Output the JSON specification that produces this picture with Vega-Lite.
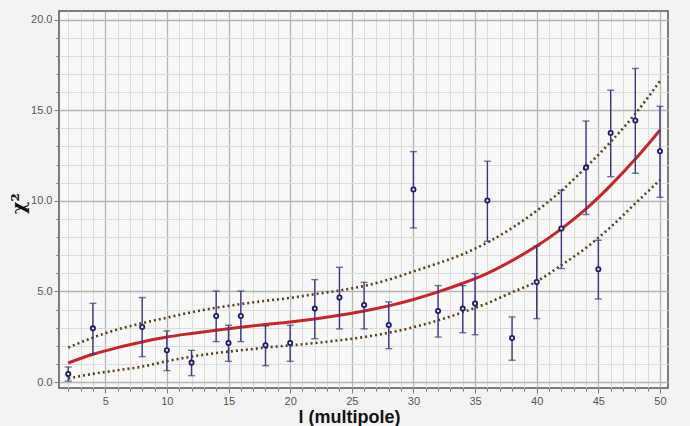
{
  "$schema": "https://vega.github.io/schema/vega-lite/v6.json",
  "width": 609,
  "height": 377,
  "autosize": {"type": "none"},
  "padding": {"left": 59, "top": 11, "right": 22, "bottom": 38},
  "background": "#f3f3f3",
  "view": {"fill": "#f8f8f8", "stroke": "#555555", "strokeWidth": 1.5},
  "datasets": {
    "pts": [
      {"l": 2, "chi2": 0.44, "lo": 0.05, "hi": 0.83},
      {"l": 4, "chi2": 2.96, "lo": 1.53, "hi": 4.34},
      {"l": 8, "chi2": 3.04, "lo": 1.40, "hi": 4.66},
      {"l": 10, "chi2": 1.75, "lo": 0.63, "hi": 2.82},
      {"l": 12, "chi2": 1.07, "lo": 0.35, "hi": 1.75},
      {"l": 14, "chi2": 3.64, "lo": 2.23, "hi": 5.02},
      {"l": 15, "chi2": 2.15, "lo": 1.14, "hi": 3.13},
      {"l": 16, "chi2": 3.64, "lo": 2.23, "hi": 5.02},
      {"l": 18, "chi2": 2.03, "lo": 0.90, "hi": 3.10},
      {"l": 20, "chi2": 2.15, "lo": 1.14, "hi": 3.13},
      {"l": 22, "chi2": 4.05, "lo": 2.39, "hi": 5.65},
      {"l": 24, "chi2": 4.66, "lo": 2.93, "hi": 6.33},
      {"l": 26, "chi2": 4.25, "lo": 2.93, "hi": 5.50},
      {"l": 28, "chi2": 3.15, "lo": 1.84, "hi": 4.42},
      {"l": 30, "chi2": 10.62, "lo": 8.5, "hi": 12.71},
      {"l": 32, "chi2": 3.92, "lo": 2.48, "hi": 5.32},
      {"l": 34, "chi2": 4.05, "lo": 2.72, "hi": 5.32},
      {"l": 35, "chi2": 4.33, "lo": 2.61, "hi": 5.98},
      {"l": 36, "chi2": 10.01, "lo": 7.76, "hi": 12.18},
      {"l": 38, "chi2": 2.43, "lo": 1.20, "hi": 3.59},
      {"l": 40, "chi2": 5.52, "lo": 3.5, "hi": 7.5},
      {"l": 42, "chi2": 8.47, "lo": 6.26, "hi": 10.58},
      {"l": 44, "chi2": 11.83, "lo": 9.24, "hi": 14.4},
      {"l": 45, "chi2": 6.22, "lo": 4.58, "hi": 7.82},
      {"l": 46, "chi2": 13.74, "lo": 11.33, "hi": 16.1},
      {"l": 48, "chi2": 14.43, "lo": 11.52, "hi": 17.3},
      {"l": 50, "chi2": 12.73, "lo": 10.19, "hi": 15.21}
    ],
    "fit": [
      {"l": 2, "fit": 1.05, "up": 1.9, "dn": 0.2},
      {"l": 4, "fit": 1.53, "up": 2.45, "dn": 0.45},
      {"l": 6, "fit": 1.9, "up": 2.9, "dn": 0.65},
      {"l": 8, "fit": 2.21, "up": 3.25, "dn": 0.85},
      {"l": 10, "fit": 2.48, "up": 3.55, "dn": 1.15},
      {"l": 12, "fit": 2.68, "up": 3.85, "dn": 1.4},
      {"l": 14, "fit": 2.86, "up": 4.1, "dn": 1.6},
      {"l": 16, "fit": 3.02, "up": 4.3, "dn": 1.75},
      {"l": 18, "fit": 3.17, "up": 4.48, "dn": 1.9},
      {"l": 20, "fit": 3.31, "up": 4.64, "dn": 2.02},
      {"l": 22, "fit": 3.48, "up": 4.85, "dn": 2.15},
      {"l": 24, "fit": 3.68, "up": 5.05, "dn": 2.3},
      {"l": 26, "fit": 3.92, "up": 5.3, "dn": 2.48},
      {"l": 28, "fit": 4.2, "up": 5.65, "dn": 2.72},
      {"l": 30, "fit": 4.55, "up": 6.1, "dn": 3.02},
      {"l": 32, "fit": 4.97, "up": 6.55, "dn": 3.4},
      {"l": 34, "fit": 5.45, "up": 7.05, "dn": 3.85},
      {"l": 36, "fit": 6.0, "up": 7.7, "dn": 4.35},
      {"l": 38, "fit": 6.7, "up": 8.5, "dn": 4.95},
      {"l": 40, "fit": 7.5, "up": 9.45, "dn": 5.55},
      {"l": 42, "fit": 8.45, "up": 10.55, "dn": 6.45},
      {"l": 44, "fit": 9.55, "up": 11.85, "dn": 7.4},
      {"l": 46, "fit": 10.85, "up": 13.25, "dn": 8.55},
      {"l": 48, "fit": 12.3, "up": 14.8, "dn": 9.85},
      {"l": 50, "fit": 13.9, "up": 16.6, "dn": 11.15}
    ]
  },
  "config": {
    "font": "Liberation Sans",
    "axis": {
      "labelColor": "#555555",
      "labelFontSize": 11,
      "labelOverlap": false,
      "labelBound": false,
      "domain": false,
      "tickColor": "#777777",
      "gridOpacity": 1
    },
    "axisY": {
      "title": "χ²",
      "titleFont": "DejaVu Serif",
      "titleFontSize": 19,
      "titleFontWeight": "bold",
      "titleColor": "#111111",
      "titleX": -31,
      "titleY": 192,
      "values": [0,1,2,3,4,5,6,7,8,9,10,11,12,13,14,15,16,17,18,19,20],
      "format": ".1f",
      "labelExpr": "datum.value % 5 === 0 ? datum.label : ''",
      "labelPadding": 2,
      "tickSize": {"condition": {"test": "datum.value % 5 === 0", "value": 5}, "value": 3},
      "gridColor": {"condition": {"test": "datum.value % 5 === 0", "value": "#b4b4b4"}, "value": "#dcdcdc"},
      "gridWidth": {"condition": {"test": "datum.value % 5 === 0", "value": 1.3}, "value": 1}
    }
  },
  "encoding": {
    "x": {
      "field": "l",
      "type": "quantitative",
      "scale": {"domain": [1.25, 50.65], "nice": false, "zero": false},
      "axis": {
        "title": "l (multipole)",
        "titleFontSize": 18,
        "titleFontWeight": "bold",
        "titleColor": "#111111",
        "titleX": 290,
        "titleY": 34,
        "titleBaseline": "alphabetic",
        "values": [2,3,4,5,6,7,8,9,10,11,12,13,14,15,16,17,18,19,20,21,22,23,24,25,26,27,28,29,30,31,32,33,34,35,36,37,38,39,40,41,42,43,44,45,46,47,48,49,50],
        "labelExpr": "datum.value % 5 === 0 ? datum.label : ''",
        "labelPadding": 2,
        "tickSize": {"condition": {"test": "datum.value % 5 === 0", "value": 5}, "value": 3},
        "gridColor": {"condition": {"test": "datum.value % 5 === 0", "value": "#b4b4b4"}, "value": "#dcdcdc"},
        "gridWidth": {"condition": {"test": "datum.value % 5 === 0", "value": 1.3}, "value": 1}
      }
    }
  },
  "layer": [
    {
      "data": {"name": "fit"},
      "mark": {"type": "line", "interpolate": "monotone", "color": "#5a3e1c", "strokeWidth": 2.6, "strokeDash": [2, 3]},
      "encoding": {
        "y": {
          "field": "up",
          "type": "quantitative",
          "title": "χ²",
          "scale": {"domain": [-0.33, 20.47], "nice": false, "zero": false},
          "axis": {"values": [0,1,2,3,4,5,6,7,8,9,10,11,12,13,14,15,16,17,18,19,20]}
        }
      }
    },
    {
      "data": {"name": "fit"},
      "mark": {"type": "line", "interpolate": "monotone", "color": "#5a3e1c", "strokeWidth": 2.6, "strokeDash": [2, 3]},
      "encoding": {"y": {"field": "dn", "type": "quantitative", "title": "χ²", "axis": {"values": [0,1,2,3,4,5,6,7,8,9,10,11,12,13,14,15,16,17,18,19,20]}}}
    },
    {
      "data": {"name": "fit"},
      "mark": {"type": "line", "interpolate": "monotone", "color": "#c0282a", "strokeWidth": 3},
      "encoding": {"y": {"field": "fit", "type": "quantitative", "title": "χ²", "axis": {"values": [0,1,2,3,4,5,6,7,8,9,10,11,12,13,14,15,16,17,18,19,20]}}}
    },
    {
      "data": {"name": "pts"},
      "mark": {"type": "errorbar", "ticks": {"size": 7}, "color": "#383880", "thickness": 1.4},
      "encoding": {
        "y": {"field": "lo", "type": "quantitative", "title": "χ²", "axis": {"values": [0,1,2,3,4,5,6,7,8,9,10,11,12,13,14,15,16,17,18,19,20]}},
        "y2": {"field": "hi"}
      }
    },
    {
      "data": {"name": "pts"},
      "mark": {"type": "point", "shape": "circle", "filled": true, "fill": "#e8e8f4", "stroke": "#1c1c66", "strokeWidth": 1.8, "size": 18, "opacity": 1},
      "encoding": {"y": {"field": "chi2", "type": "quantitative", "title": "χ²", "axis": {"values": [0,1,2,3,4,5,6,7,8,9,10,11,12,13,14,15,16,17,18,19,20]}}}
    }
  ]
}
